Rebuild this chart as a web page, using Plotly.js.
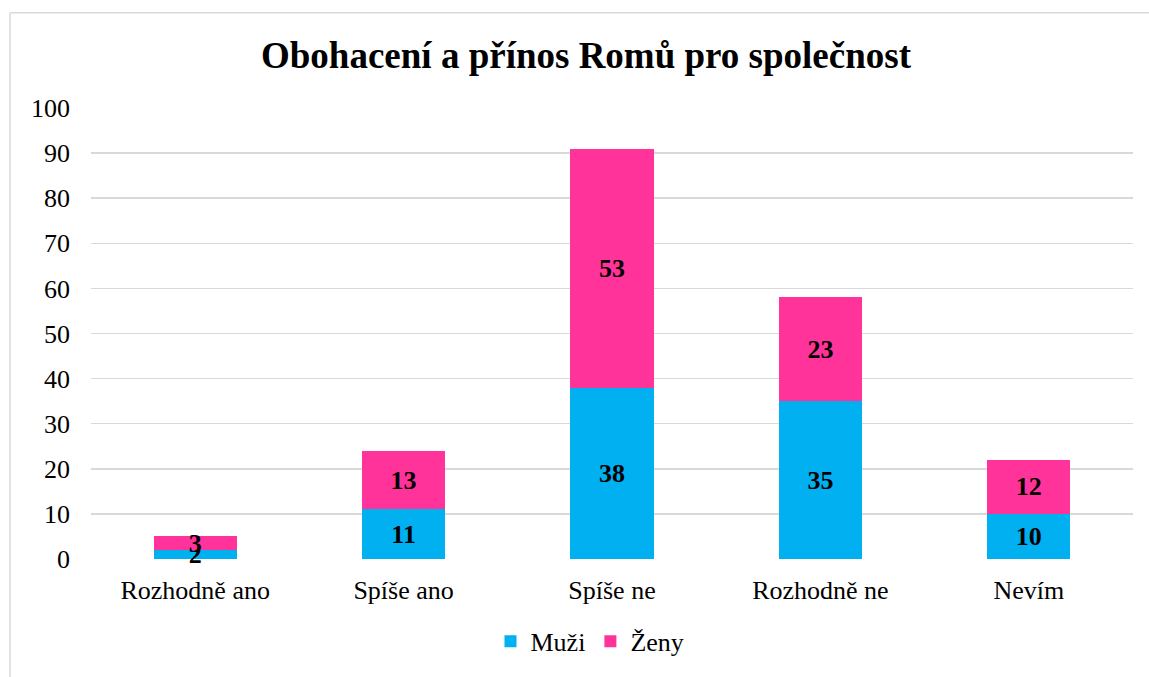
<!DOCTYPE html>
<html>
<head>
<meta charset="utf-8">
<script src="https://cdn.plot.ly/plotly-3.0.1.min.js"></script>
<style>
  html, body { margin: 0; padding: 0; background: #ffffff; }
  #chart { width: 1149px; height: 677px; }
</style>
</head>
<body>
<div id="chart"></div>
<script>
const categories = ["Rozhodně ano", "Spíše ano", "Spíše ne", "Rozhodně ne", "Nevím"];
const muzi = [2, 11, 38, 35, 10];
const zeny = [3, 13, 53, 23, 12];
const seriesNames = ["Muži", "Ženy"];
const yTicks = [0, 10, 20, 30, 40, 50, 60, 70, 80, 90, 100];

const FONT = 'Liberation Serif, Times New Roman, Times, serif';

const labelFont = { family: FONT, size: 26, color: '#000000', weight: 'bold' };

const traces = [
  {
    type: 'bar', name: seriesNames[0], x: categories, y: muzi,
    marker: { color: '#00B0F0' },
    text: muzi.map(String), textposition: 'inside', insidetextanchor: 'middle',
    textangle: 0, constraintext: 'none', cliponaxis: false,
    textfont: labelFont, hoverinfo: 'skip'
  },
  {
    type: 'bar', name: seriesNames[1], x: categories, y: zeny,
    marker: { color: '#FF3399' },
    text: zeny.map(String), textposition: 'inside', insidetextanchor: 'middle',
    textangle: 0, constraintext: 'none', cliponaxis: false,
    textfont: labelFont, hoverinfo: 'skip'
  }
];

const L = 91, R = 16, T = 108, B = 114;
const W = 1149, H = 677;
const pw = W - L - R, ph = H - T - B;
const px = v => (v - L) / pw;
const py = v => (H - B - v) / ph;

const layout = {
  width: W, height: H,
  margin: { l: L, r: R, t: T, b: B },
  paper_bgcolor: '#ffffff', plot_bgcolor: '#ffffff',
  barmode: 'stack', bargap: 0.6,
  font: { family: FONT, size: 26, color: '#000000' },
  uniformtext: { mode: 'show', minsize: 26 },
  title: {
    text: '<b>Obohacení a přínos Romů pro společnost</b>',
    font: { family: FONT, size: 37, color: '#000000' },
    x: 586 / W, xref: 'container', xanchor: 'center',
    y: 1 - 55 / H, yref: 'container', yanchor: 'middle'
  },
  xaxis: {
    type: 'category', showgrid: false, zeroline: false, showline: false,
    ticks: '', tickfont: { family: FONT, size: 26, color: '#000000' },
    ticklabelstandoff: 13
  },
  yaxis: {
    range: [0, 100], tickvals: yTicks, ticktext: yTicks.map(String),
    showgrid: true, gridcolor: '#d9d9d9', gridwidth: 1.5,
    zeroline: false, showline: false, ticks: '',
    tickfont: { family: FONT, size: 26, color: '#000000' },
    ticklabelstandoff: 20
  },
  legend: {
    orientation: 'h', x: px(590), xanchor: 'center', y: py(646), yanchor: 'middle',
    font: { family: FONT, size: 26, color: '#000000' },
    traceorder: 'normal', itemwidth: 30
  },
  shapes: [
    { type: 'line', xref: 'paper', yref: 'paper', x0: px(10), x1: px(10), y0: py(12), y1: py(700),
      line: { color: '#d9d9d9', width: 1.5 } },
    { type: 'line', xref: 'paper', yref: 'paper', x0: px(10), x1: px(1170), y0: py(12), y1: py(12),
      line: { color: '#d9d9d9', width: 1.5 } }
  ],
  showlegend: true
};

Plotly.newPlot('chart', traces, layout, { displayModeBar: false, staticPlot: true });
</script>
</body>
</html>
